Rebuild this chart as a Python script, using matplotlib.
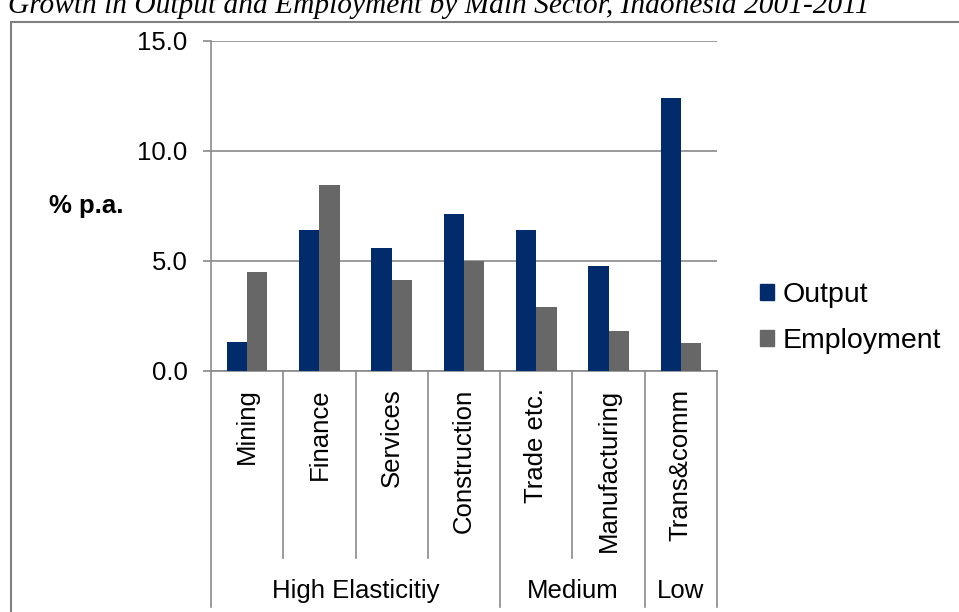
import matplotlib.pyplot as plt
from matplotlib.patches import Rectangle, Patch
import numpy as np

plt.rcParams['font.family'] = ['Liberation Sans', 'DejaVu Sans']

sectors = ['Mining', 'Finance', 'Services', 'Construction', 'Trade etc.', 'Manufacturing', 'Trans&comm']
output = [1.30, 6.43, 5.58, 7.12, 6.39, 4.76, 12.43]
employment = [4.52, 8.47, 4.12, 5.00, 2.91, 1.82, 1.27]
groups = ['High Elasticitiy', 'Medium', 'Low']
group_sizes = [4, 2, 1]

navy = '#022b6c'
grey_bar = '#676767'
line_col = '#8a8a8a'

fig = plt.figure(figsize=(9.59, 6.12), dpi=100)
ax = fig.add_axes([211/959, 1 - 371/612, 506/959, 330/612])

x = np.arange(len(sectors)) + 0.5
w = 0.28
ax.bar(x - w/2, output, w, color=navy, label='Output', zorder=3)
ax.bar(x + w/2, employment, w, color=grey_bar, label='Employment', zorder=3)

ax.set_xlim(0, len(sectors))
ax.set_ylim(0, 15)
ax.set_yticks([0, 5, 10, 15])
ax.set_yticklabels(['%.1f' % v for v in [0, 5, 10, 15]], fontsize=18.5)
ax.tick_params(axis='y', length=6, width=1.2, color=line_col, pad=11)
ax.set_xticks([])
ax.yaxis.grid(True, color=line_col, lw=1.2, zorder=0)
for s in ['top', 'right']:
    ax.spines[s].set_visible(False)
for s in ['left', 'bottom']:
    ax.spines[s].set_color(line_col)
    ax.spines[s].set_linewidth(1.2)

# category labels and separators below the axis
tr = ax.get_xaxis_transform()
for xi, name in zip(x, sectors):
    ax.text(xi, -0.053, name, rotation=90, ha='center', va='top', fontsize=18.5, transform=tr)

bounds = np.cumsum([0] + group_sizes)
for b in range(len(sectors) + 1):
    depth = -0.715 if b in bounds else -0.567
    ax.plot([b, b], [0, depth], color=line_col, lw=1.2, transform=tr, clip_on=False)

for g, lo, hi in zip(groups, bounds[:-1], bounds[1:]):
    ax.text((lo + hi) / 2, -0.688, g, ha='center', va='baseline', fontsize=18.5, transform=tr)

fig.text(49/959, 1 - 213/612, '% p.a.', fontsize=18.5, fontweight='bold', va='baseline', ha='left')

handles = [Patch(color=navy, label='Output'), Patch(color=grey_bar, label='Employment')]
fig.legend(handles=handles, loc='center left', bbox_to_anchor=(760/959, 1 - 318/612),
           frameon=False, fontsize=20.5, handlelength=0.48, handleheight=0.48,
           handletextpad=0.3, labelspacing=0.72, borderpad=0, borderaxespad=0)

fig.text(8/959, 1 - 13/612, 'Growth in Output and Employment by Main Sector, Indonesia 2001-2011',
         family='Liberation Serif', style='italic', fontsize=21.2, va='baseline', ha='left')

fig.add_artist(Rectangle((11/959, -0.5), 2, 1.5 - 22/612, transform=fig.transFigure,
                         fill=False, edgecolor='#808080', lw=1.5))

fig.savefig('out.png', dpi=100)
